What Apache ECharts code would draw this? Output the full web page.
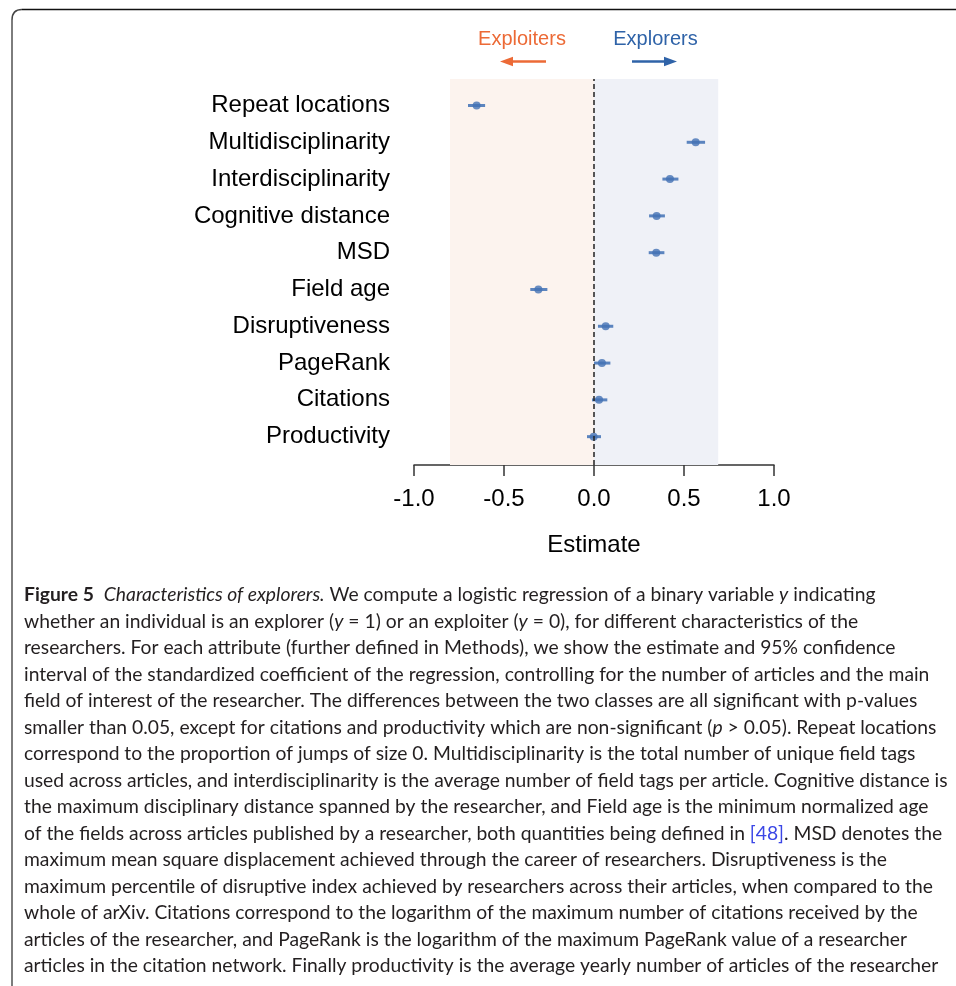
<!DOCTYPE html>
<html><head><meta charset="utf-8">
<script src="https://cdn.jsdelivr.net/npm/echarts@6/dist/echarts.min.js"></script>
<style>html,body{margin:0;padding:0;background:#fff}#c{width:956px;height:986px}</style>
</head><body><div id="c"></div>
<script>
const categories = ['Repeat locations','Multidisciplinarity','Interdisciplinarity','Cognitive distance','MSD','Field age','Disruptiveness','PageRank','Citations','Productivity'];
const estimates = [-0.652, 0.565, 0.422, 0.348, 0.346, -0.309, 0.065, 0.044, 0.028, -0.002];
const ciLower   = [-0.700, 0.515, 0.380, 0.306, 0.304, -0.354, 0.022, 0.000, -0.011, -0.039];
const ciUpper   = [-0.605, 0.617, 0.469, 0.394, 0.391, -0.259, 0.107, 0.091, 0.074, 0.039];
const xTicks = [-1.0, -0.5, 0.0, 0.5, 1.0];
const exploiterRange = [-0.8, 0];
const explorerRange = [0, 0.69];
const captionLines = [
 '{b|Figure 5}  {i|Characteristics of explorers.} We compute a logistic regression of a binary variable {i|y} indicating',
 'whether an individual is an explorer ({i|y} = 1) or an exploiter ({i|y} = 0), for different characteristics of the',
 'researchers. For each attribute (further defined in Methods), we show the estimate and 95% confidence',
 'interval of the standardized coefficient of the regression, controlling for the number of articles and the main',
 'field of interest of the researcher. The differences between the two classes are all significant with p-values',
 'smaller than 0.05, except for citations and productivity which are non-significant ({i|p} > 0.05). Repeat locations',
 'correspond to the proportion of jumps of size 0. Multidisciplinarity is the total number of unique field tags',
 'used across articles, and interdisciplinarity is the average number of field tags per article. Cognitive distance is',
 'the maximum disciplinary distance spanned by the researcher, and Field age is the minimum normalized age',
 'of the fields across articles published by a researcher, both quantities being defined in {a|[48]}. MSD denotes the',
 'maximum mean square displacement achieved through the career of researchers. Disruptiveness is the',
 'maximum percentile of disruptive index achieved by researchers across their articles, when compared to the',
 'whole of arXiv. Citations correspond to the logarithm of the maximum number of citations received by the',
 'articles of the researcher, and PageRank is the logarithm of the maximum PageRank value of a researcher',
 'articles in the citation network. Finally productivity is the average yearly number of articles of the researcher'
];

const n = categories.length;
const labelFont = '"Liberation Sans", Arial, Helvetica, sans-serif';
const capFont = 'Lato, "Open Sans", sans-serif';
const capSize = 19.3;
const capColor = '#231f20';
const pointColor = '#4472b4';

const chart = echarts.init(document.getElementById('c'), null, {renderer: 'canvas'});

const capRich = {
  b: {fontSize: capSize, fontFamily: capFont, fontWeight: 'bold', fontStyle: 'normal', fill: capColor, color: capColor},
  i: {fontSize: capSize, fontFamily: capFont, fontWeight: 'normal', fontStyle: 'italic', fill: capColor, color: capColor},
  a: {fontSize: capSize, fontFamily: capFont, fontWeight: 'normal', fontStyle: 'normal', fill: '#3a46e6', color: '#3a46e6'}
};

const graphics = [
  {type: 'line', shape: {x1: 12, y1: 20, x2: 12, y2: 990}, style: {stroke: '#7d7d7d', lineWidth: 2}, silent: true},
  {type: 'bezierCurve', shape: {x1: 12, y1: 20, cpx1: 12, cpy1: 9.5, x2: 22, y2: 9.5}, style: {stroke: '#444', lineWidth: 1.5, fill: null}, silent: true},
  {type: 'line', shape: {x1: 22, y1: 9.5, x2: 960, y2: 9.5}, style: {stroke: '#111', lineWidth: 1.5}, silent: true},
  {type: 'text', x: 522, y: 39.5, style: {text: 'Exploiters', fontSize: 20, fontFamily: labelFont, fill: '#ec6a36', align: 'center', verticalAlign: 'middle'}},
  {type: 'text', x: 655.5, y: 39.5, style: {text: 'Explorers', fontSize: 20, fontFamily: labelFont, fill: '#2f63a8', align: 'center', verticalAlign: 'middle'}},
  {type: 'line', shape: {x1: 510, y1: 61.5, x2: 546, y2: 61.5}, style: {stroke: '#ec6a36', lineWidth: 2.5}},
  {type: 'polygon', shape: {points: [[500, 61.5], [513, 56.8], [513, 66.2]]}, style: {fill: '#ec6a36'}},
  {type: 'line', shape: {x1: 632, y1: 61.5, x2: 667, y2: 61.5}, style: {stroke: '#2f63a8', lineWidth: 2.5}},
  {type: 'polygon', shape: {points: [[677, 61.5], [664, 56.8], [664, 66.2]]}, style: {fill: '#2f63a8'}}
];
captionLines.forEach((t, k) => {
  graphics.push({type: 'text', x: 24, y: 595 + k * 26.5, style: {
    text: t, fontSize: capSize, fontFamily: capFont, fill: capColor, align: 'left', verticalAlign: 'middle', rich: capRich
  }});
});

const option = {
  animation: false,
  backgroundColor: '#fff',
  grid: {left: 414, right: 182, top: 79, bottom: 521, containLabel: false},
  xAxis: {
    type: 'value', min: -1, max: 1, interval: 0.5,
    axisLine: {show: true, lineStyle: {color: '#333', width: 1.5}},
    axisTick: {show: true, length: 11, lineStyle: {color: '#333', width: 1.5}, customValues: xTicks},
    axisLabel: {fontSize: 24, color: '#000', fontFamily: labelFont, margin: 22, customValues: xTicks,
      formatter: v => Number(v).toFixed(1)},
    splitLine: {show: false},
    name: 'Estimate', nameLocation: 'middle', nameGap: 68,
    nameTextStyle: {fontSize: 24, color: '#000', fontFamily: labelFont}
  },
  yAxis: {
    type: 'value', min: 0.23, max: 10.72,
    axisLine: {show: false}, axisTick: {show: false}, splitLine: {show: false},
    axisLabel: {fontSize: 24, color: '#000', fontFamily: labelFont, margin: 24,
      customValues: categories.map((c, i) => n - i),
      formatter: v => categories[n - Math.round(v)]}
  },
  graphic: graphics,
  series: [
    {
      type: 'line', data: [], z: 1, silent: true,
      markArea: {silent: true, data: [
        [{xAxis: exploiterRange[0], itemStyle: {color: '#fcf3ee'}}, {xAxis: exploiterRange[1]}],
        [{xAxis: explorerRange[0], itemStyle: {color: '#eff1f7'}}, {xAxis: explorerRange[1]}]
      ]},
      markLine: {silent: true, symbol: 'none', label: {show: false},
        lineStyle: {color: '#222', width: 1.5, type: [5, 3]},
        data: [{xAxis: 0}]}
    },
    {
      type: 'custom', z: 3,
      data: categories.map((c, i) => [ciLower[i], ciUpper[i], n - i]),
      encode: {x: [0, 1], y: 2},
      renderItem: (params, api) => {
        const p1 = api.coord([api.value(0), api.value(2)]);
        const p2 = api.coord([api.value(1), api.value(2)]);
        return {type: 'line', shape: {x1: p1[0], y1: p1[1], x2: p2[0], y2: p2[1]},
          style: {stroke: '#4a78b8', lineWidth: 3, opacity: 0.9}};
      }
    },
    {
      type: 'scatter', z: 4, symbol: 'circle', symbolSize: 8,
      itemStyle: {color: pointColor},
      data: estimates.map((v, i) => [v, n - i])
    }
  ]
};
chart.setOption(option);
</script>
</body></html>
